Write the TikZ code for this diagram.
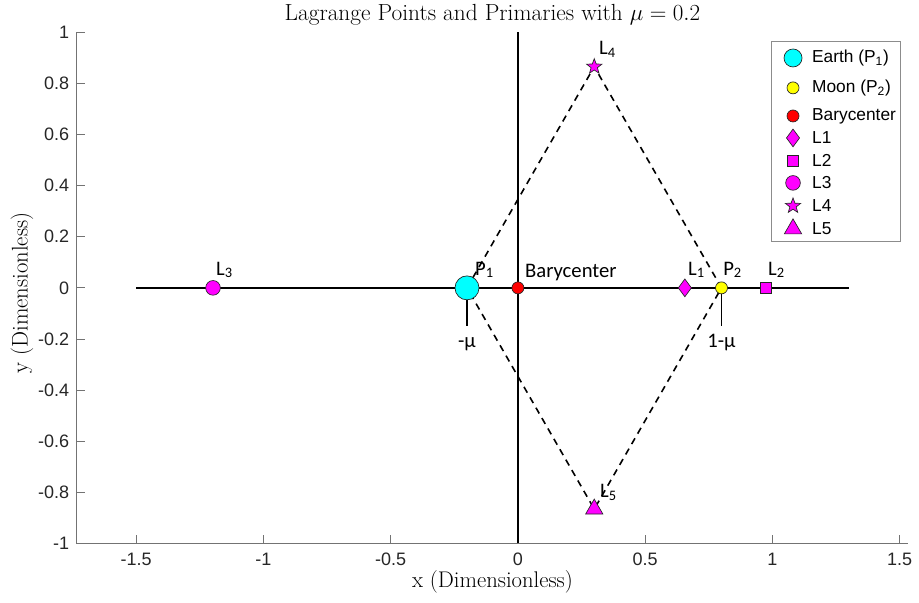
\documentclass[tikz,border=0pt]{standalone}
\usepackage{fontspec}
\newfontfamily\axisfont{Liberation Sans}
\newfontfamily\notefont{Carlito}
\usetikzlibrary{shapes.geometric,positioning}
\definecolor{axgray}{gray}{0.15}
\definecolor{mag}{RGB}{255,0,255}
\definecolor{cya}{RGB}{0,255,255}
\definecolor{yel}{RGB}{255,255,0}
\definecolor{rd}{RGB}{255,0,0}

\begin{document}
\begin{tikzpicture}[x=190.9pt,y=191.6pt]
        \tikzstyle{every node}=[inner sep=0pt];
        \tikzstyle{mk}=[draw=black!85,line width=0.5pt];
        \tikzstyle{tick}=[font=\axisfont\fontsize{13.5}{15}\selectfont,text=axgray];
        \tikzstyle{note}=[font=\notefont\fontsize{15.5}{18}\selectfont,anchor=base west];
        \tikzstyle{leg}=[font=\axisfont\fontsize{13}{15}\selectfont,anchor=west];
        \tikzstyle{pri}=[mk,circle];
        \tikzstyle{lpt}=[mk,fill=mag];
        \useasboundingbox (-2.035,-1.233) rectangle (1.576,1.127);
        %axes
        \coordinate (ll) at (-1.733,-1);
        \coordinate (ul) at (-1.733,1);
        \coordinate (lr) at (1.533,-1);
        \draw[black!55,line width=0.6pt] (ul)--(ll)--(lr);
        \foreach \x in {-1.5,-1,-0.5,0,0.5,1,1.5}{
            \draw[black!55,line width=0.6pt] (\x,-1)--(\x,-0.969);
            \node[tick,anchor=base] (xt\x) at (\x,-1.085) {\x};
        }
        \foreach \y in {-1,-0.8,-0.6,-0.4,-0.2,0,0.2,0.4,0.6,0.8,1}{
            \draw[black!55,line width=0.6pt] (-1.733,\y)--(-1.702,\y);
            \node[tick,anchor=east] (yt\y) at (-1.762,\y) {\y};
        }
        \node[font=\fontsize{17.5}{20}\selectfont] (title) at (-0.1,1.07) {Lagrange Points and Primaries with $\mu = 0.2$};
        \node[font=\fontsize{17}{19}\selectfont] (xlab) at (-0.1,-1.15) {x (Dimensionless)};
        \node[font=\fontsize{17}{19}\selectfont,rotate=90] (ylab) at (-1.949,-0.02) {y (Dimensionless)};
        %data
        \coordinate (P1) at (-0.2,0);
        \coordinate (P2) at (0.8,0);
        \coordinate (B) at (0,0);
        \coordinate (L1) at (0.656,0);
        \coordinate (L2) at (0.974,0);
        \coordinate (L3) at (-1.198,0);
        \coordinate (L4) at (0.3,0.866);
        \coordinate (L5) at (0.3,-0.866);
        \coordinate (xa) at (-1.5,0);
        \coordinate (xb) at (1.3,0);
        \coordinate (ya) at (0,-1);
        \coordinate (yb) at (0,1);
        \coordinate (m1) at (-0.2,-0.15);
        \coordinate (m2) at (0.8,-0.15);
        \draw[line width=1.3pt] (xa)--(xb)
        (ya)--(yb)
        (P1)--(m1)
        (P2)--(m2);
        \draw[line width=1.2pt,dash pattern=on 5pt off 4pt] (P1)--(L4)--(P2)--(L5)--cycle;
        \node[pri,fill=cya,minimum size=18pt] (earth) at (P1) {};
        \node[pri,fill=rd,minimum size=9pt] (bary) at (B) {};
        \node[pri,fill=yel,minimum size=9pt] (moon) at (P2) {};
        \node[lpt,diamond,minimum width=10pt,minimum height=13.5pt] (l1) at (L1) {};
        \node[lpt,rectangle,minimum size=8pt] (l2) at (L2) {};
        \node[lpt,circle,minimum size=11pt] (l3) at (L3) {};
        \node[lpt,star,star points=5,star point ratio=2.4,minimum size=12pt] (l4) at (L4) {};
        \node[lpt,regular polygon,regular polygon sides=3,minimum size=15pt] (l5) at (L5) {};
        %labels
        \node[note] (t3) at (-1.187,0.05) {L\textsubscript{3}};
        \node[note] (tp1) at (-0.169,0.05) {P\textsubscript{1}};
        \node[note] (tb) at (0.0275,0.04) {Barycenter};
        \node[note] (t1) at (0.668,0.05) {L\textsubscript{1}};
        \node[note] (tp2) at (0.806,0.05) {P\textsubscript{2}};
        \node[note] (t2) at (0.982,0.05) {L\textsubscript{2}};
        \node[note] (t4) at (0.318,0.912) {L\textsubscript{4}};
        \node[note] (t5) at (0.322,-0.822) {L\textsubscript{5}};
        \node[note,anchor=base] (mu1) at (-0.2,-0.235) {-μ};
        \node[note,anchor=base] (mu2) at (0.8,-0.235) {1-μ};
        %legend
        \draw[fill=white,draw=black!45,line width=0.6pt] (0.998,0.18) rectangle (1.501,0.963);
        \node[pri,fill=cya,minimum size=13.5pt] (ge) at (1.081,0.900) {};
        \node[pri,fill=yel,minimum size=9pt] (gm) at (1.081,0.783) {};
        \node[pri,fill=rd,minimum size=9pt] (gb) at (1.081,0.673) {};
        \node[lpt,diamond,minimum width=10pt,minimum height=13.5pt] (g1) at (1.081,0.587) {};
        \node[lpt,rectangle,minimum size=8pt] (g2) at (1.081,0.497) {};
        \node[lpt,circle,minimum size=11pt] (g3) at (1.081,0.411) {};
        \node[lpt,star,star points=5,star point ratio=2.4,minimum size=12pt] (g4) at (1.081,0.321) {};
        \node[lpt,regular polygon,regular polygon sides=3,minimum size=15pt] (g5) at (1.081,0.231) {};
        \node[leg] (ne) at (1.155,0.900) {Earth (P\textsubscript{1})};
        \node[leg] (nm) at (1.155,0.783) {Moon (P\textsubscript{2})};
        \node[leg] (nb) at (1.155,0.673) {Barycenter};
        \node[leg] (n1) at (1.155,0.587) {L1};
        \node[leg] (n2) at (1.155,0.497) {L2};
        \node[leg] (n3) at (1.155,0.411) {L3};
        \node[leg] (n4) at (1.155,0.321) {L4};
        \node[leg] (n5) at (1.155,0.231) {L5};
    \end{tikzpicture}
\end{document}
